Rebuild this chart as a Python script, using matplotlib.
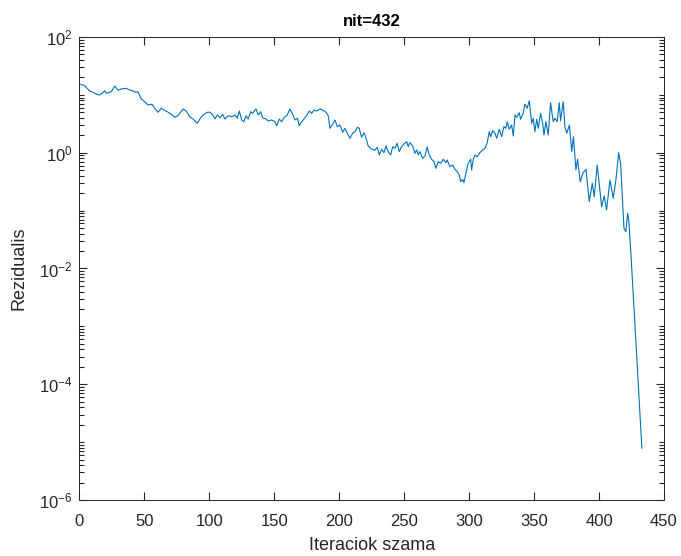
import matplotlib
matplotlib.use("Agg")
import matplotlib.pyplot as plt
import matplotlib.ticker as ticker
import numpy as np

# iteration number and log10 of the residual
iters = [1, 4.0, 7.9, 10.4, 12.9, 15.0, 17.6, 19.4, 20.6, 24.5, 27.1, 29.6, 32.2, 36.0,
         38.6, 41.2, 43.7, 45.0, 47.6, 50.2, 52.7, 55.8, 57.9, 60.4, 63.0, 65.0, 67.6,
         70.7, 73.3, 75.8, 79.7, 82.2, 84.8, 87.4, 90.7, 93.3, 95.8, 98.4, 100.5,
         103.0, 104.3, 106.1, 108.2, 110.2, 112.0, 114.6, 117.2, 119.7, 121.5, 123.0,
         124.9, 126.6, 128.2, 129.9, 131.8, 133.3, 135.9, 137.6, 139.5, 141.0, 143.6,
         145.3, 148.0, 150.5, 151.8, 153.8, 155.7, 157.4, 160.0, 162.0, 163.8, 165.9,
         167.7, 169.2, 171.1, 172.8, 174.9, 176.9, 178.8, 180.5, 182.6, 185.1, 187.2,
         189.8, 191.5, 192.8, 194.9, 196.7, 198.5, 200.5, 202.6,
         204.4, 206.2, 208.2, 210.3, 212.1, 213.9, 215.4, 217.2, 219.0, 220.6, 222.3,
         224.9, 227.5, 229.3, 230.8, 232.6, 234.4, 236.0, 237.7, 239.6, 241.1, 242.9,
         244.6, 246.2, 248.0, 249.8, 251.9, 253.1, 254.4, 256.5, 258.3, 259.6, 260.8,
         262.1, 264.2, 266.0, 267.7, 269.3, 271.1, 272.9, 274.4, 276.2, 278.1, 280.1,
         282.1, 283.1, 285.2, 287.3, 289.1, 290.8, 292.4, 293.5, 295.0, 296.0, 297.5,
         299.3, 301.2, 301.9, 303.2, 304.5,
         306.2, 308.3, 310.4, 312.2, 313.9, 315.5, 316.6, 318.1, 319.9, 321.2, 323.2,
         325.0, 326.8, 328.3, 329.3, 330.9, 332.7, 334.0, 335.3, 336.6, 338.6, 339.6,
         341.6, 342.9, 344.7, 346.3, 348.1, 349.3, 350.6, 352.0, 353.2, 355.0, 356.6,
         357.6, 359.1, 360.9, 362.7, 364.7, 366.0, 367.8, 369.4, 370.4, 372.4, 373.8,
         375.1, 377.2, 379.0, 380.3, 382.2, 383.5, 385.5, 387.5, 390.0, 392.5, 394.8,
         396.3, 398.6, 402.0, 404.0, 405.8, 408.4, 410.9, 413.0, 415.1, 416.6, 419.2,
         420.7, 422.0, 423.0, 424.6, 433]

log_res = [1.182, 1.158, 1.066, 1.044, 1.015, 0.997, 1.027, 1.072, 1.027, 1.054, 1.153,
           1.079, 1.101, 1.113, 1.084, 1.066, 1.044, 1.054, 0.928, 0.882, 0.825, 0.837,
           0.768, 0.699, 0.768, 0.738, 0.709, 0.664, 0.612, 0.640, 0.756, 0.721, 0.623,
           0.583, 0.509, 0.605, 0.664, 0.699, 0.699,
           0.640, 0.583, 0.652, 0.605, 0.664, 0.583, 0.640, 0.623, 0.652, 0.595, 0.721,
           0.566, 0.536, 0.640, 0.583, 0.709, 0.681, 0.756, 0.652, 0.709, 0.605, 0.583,
           0.548, 0.566, 0.536, 0.467, 0.583, 0.536, 0.605, 0.652, 0.756, 0.681, 0.566,
           0.595, 0.467, 0.536, 0.583, 0.640, 0.721, 0.681, 0.738, 0.721, 0.756, 0.738,
           0.699, 0.640, 0.422, 0.491, 0.566, 0.450, 0.479, 0.353,
           0.422, 0.336, 0.250, 0.336, 0.364, 0.440, 0.422, 0.267, 0.346, 0.250, 0.117,
           0.060, 0.047, 0.094, -0.039, 0.060, 0.001, 0.117, 0.018, -0.039, 0.104, 0.077,
           0.163, 0.018, 0.104, 0.151, 0.191, 0.104, 0.174, 0.117, -0.009, 0.047, -0.039,
           0.018, -0.096, -0.056, 0.104, -0.039, -0.113, -0.155, -0.269, -0.155, -0.182,
           -0.113, -0.172, -0.125, -0.241, -0.212, -0.286, -0.327, -0.384, -0.500,
           -0.459, -0.517, -0.355, -0.182, -0.113, -0.298, -0.113, -0.039,
           -0.068, 0.001, 0.047, 0.077, 0.174, 0.364, 0.277, 0.381, 0.336, 0.250, 0.405,
           0.277, 0.450, 0.422, 0.536, 0.405, 0.479, 0.289, 0.652, 0.612, 0.692, 0.578,
           0.681, 0.842, 0.768, 0.899, 0.509, 0.595, 0.364, 0.578, 0.422, 0.681, 0.509,
           0.307, 0.536, 0.307, 0.864, 0.536, 0.595, 0.536, 0.864, 0.554, 0.882, 0.440,
           0.336, 0.479, 0.018, 0.277, -0.298, -0.113, -0.500, -0.355, -0.286, -0.845,
           -0.528, -0.759, -0.212, -0.932, -0.747, -0.989, -0.471, -0.787, -0.471,
           0.001, -0.182, -1.305, -1.364, -1.046, -1.191, -1.766, -5.104]

residual = 10 ** np.array(log_res)

plt.rcParams['font.family'] = ['Liberation Sans', 'DejaVu Sans']
plt.rcParams['mathtext.fontset'] = 'custom'
plt.rcParams['mathtext.rm'] = 'Liberation Sans'

dark = '#262626'
fig = plt.figure(figsize=(6.81, 5.56), dpi=100)
ax = fig.add_axes([0.1167, 0.1007, 0.8583, 0.8328])

ax.plot(iters, residual, color='#0072BD', linewidth=0.8)
ax.set_yscale('log')
ax.set_xlim(0, 450)
ax.set_ylim(1e-6, 1e2)
ax.set_xticks(range(0, 451, 50))
ax.set_yticks([1e-6, 1e-4, 1e-2, 1e0, 1e2])
minor = [m * 10.0 ** e for e in range(-6, 2) for m in range(2, 11)]
ax.yaxis.set_minor_locator(ticker.FixedLocator(minor))
ax.yaxis.set_minor_formatter(ticker.NullFormatter())

ax.tick_params(which='both', direction='in', top=True, right=True,
               color=dark, labelcolor=dark, labelsize=12, width=0.8)
ax.tick_params(which='major', length=6)
ax.tick_params(which='minor', length=3.5)
ax.tick_params(axis='x', which='major', pad=10)
ax.tick_params(axis='y', which='major', pad=5)
for s in ax.spines.values():
    s.set_color(dark)
    s.set_linewidth(0.7)

ax.set_xlabel('Iteraciok szama', fontsize=13, color=dark, labelpad=6)
ax.set_ylabel('Rezidualis', fontsize=13, color=dark, labelpad=8)
ax.set_title('nit=432', fontsize=12, fontweight='bold', color='black', pad=8)

fig.savefig('out.png', dpi=100)
